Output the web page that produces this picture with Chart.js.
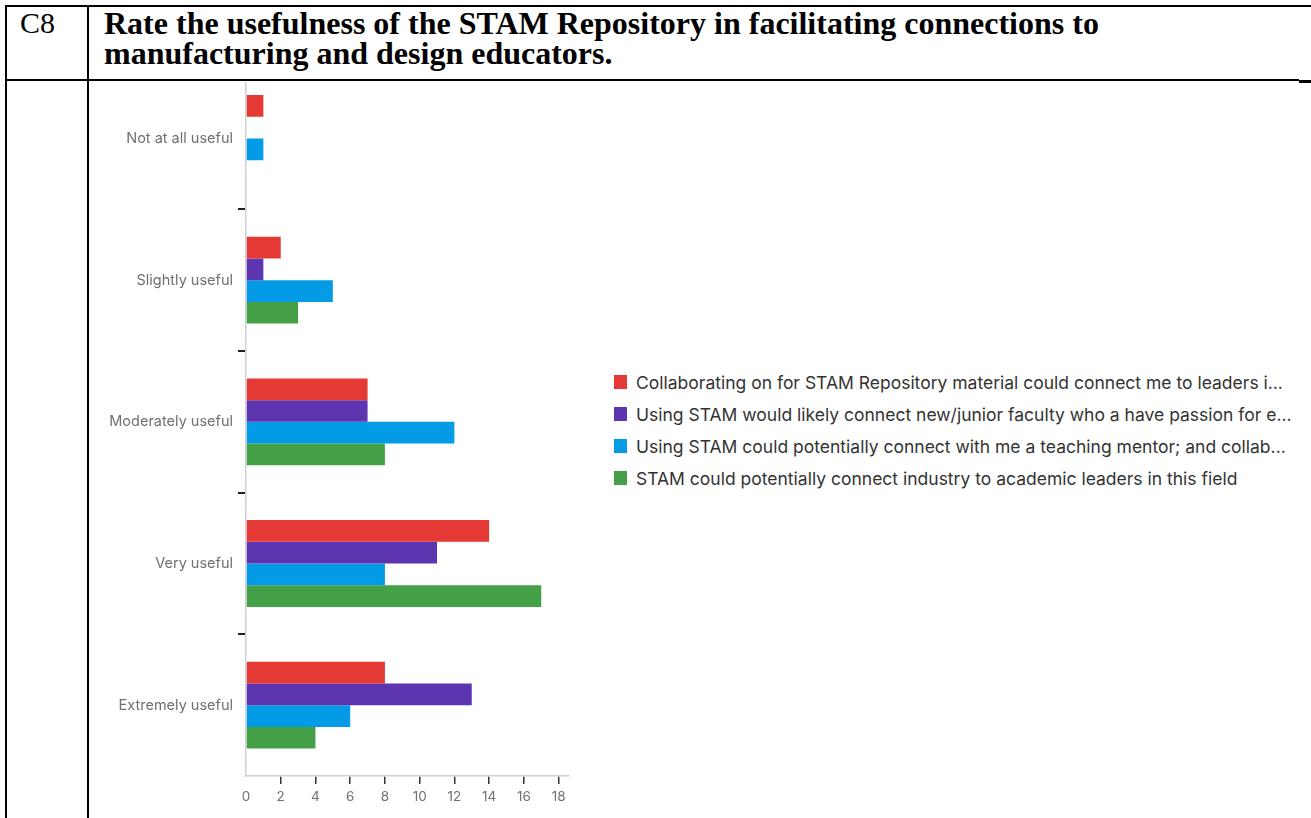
<!DOCTYPE html>
<html>
<head>
<meta charset="utf-8">
<script src="https://cdn.jsdelivr.net/npm/chart.js@4"></script>
<style>
  html, body { margin: 0; padding: 0; background: #fff; }
  body { width: 1311px; height: 818px; position: relative; overflow: hidden; }
  .line { position: absolute; background: #000; }
  .cell-id { position: absolute; left: 20px; top: 8px; font: 30px/30px "Liberation Serif", serif; }
  .title { position: absolute; left: 104px; top: 8px; font: bold 32px/30px "Liberation Serif", serif; color: #000; white-space: nowrap; }
  #chartWrap { position: absolute; left: 92px; top: 82px; width: 490px; height: 736px; overflow: hidden; }
  #chartWrap canvas { position: absolute; left: 0; top: -28px; }
  #legend { position: absolute; left: 614px; top: 366px; font: 17.5px "Inter", sans-serif; color: #333; }
  .item { height: 32px; display: flex; align-items: center; white-space: nowrap; }
  .box { width: 13px; height: 14px; margin-right: 9px; }
</style>
</head>
<body>
<div class="line" style="left:5px; top:5px; width:1306px; height:2px;"></div>
<div class="line" style="left:5px; top:5px; width:2px; height:813px;"></div>
<div class="line" style="left:87px; top:5px; width:2px; height:813px;"></div>
<div class="line" style="left:5px; top:79px; width:1294px; height:2px;"></div>
<div class="line" style="left:1299px; top:80px; width:12px; height:3px;"></div>

<div class="cell-id">C8</div>
<div class="title">Rate the usefulness of the STAM Repository in facilitating connections to<br>manufacturing and design educators.</div>

<div id="chartWrap"><canvas id="usefulChart" width="490" height="764"></canvas></div>
<div id="legend"></div>

<script>
const categories = ['Not at all useful', 'Slightly useful', 'Moderately useful', 'Very useful', 'Extremely useful'];
const seriesNames = [
  'Collaborating on for STAM Repository material could connect me to leaders i...',
  'Using STAM would likely connect new/junior faculty who a have passion for e...',
  'Using STAM could potentially connect with me a teaching mentor; and collab...',
  'STAM could potentially connect industry to academic leaders in this field'
];
const seriesColors = ['#e53935', '#5e35b1', '#039be5', '#43a047'];
const collaborating = [1, 2, 7, 14, 8];
const juniorFaculty = [0, 1, 7, 11, 13];
const teachingMentor = [1, 5, 12, 8, 6];
const industryLeaders = [0, 3, 8, 17, 4];
const xTicks = [0, 2, 4, 6, 8, 10, 12, 14, 16, 18];

const seriesValues = [collaborating, juniorFaculty, teachingMentor, industryLeaders];

const datasets = seriesValues.map((values, i) => ({
  label: seriesNames[i],
  data: values,
  backgroundColor: seriesColors[i],
  borderWidth: 0,
  barPercentage: 1,
  categoryPercentage: 0.613
}));

// legend sits to the right as plain html, the canvas is too narrow for it
const legend = document.getElementById('legend');
seriesNames.forEach((name, i) => {
  const row = document.createElement('div');
  row.className = 'item';
  row.innerHTML = '<span class="box" style="background:' + seriesColors[i] + '"></span><span></span>';
  row.lastChild.textContent = name;
  legend.appendChild(row);
});

const ctx = document.getElementById('usefulChart').getContext('2d');

new Chart(ctx, {
  type: 'bar',
  data: { labels: categories, datasets: datasets },
  options: {
    indexAxis: 'y',
    responsive: false,
    animation: false,
    devicePixelRatio: 1,
    layout: { padding: { top: 5, left: 0, right: 13, bottom: 12 } },
    plugins: {
      legend: { display: false },
      tooltip: { enabled: false }
    },
    scales: {
      y: {
        afterFit: s => { s.width = 154; },
        grid: {
          drawOnChartArea: false,
          drawTicks: true,
          tickLength: 8,
          lineWidth: 2,
          color: c => (c.index > 0 ? '#222' : 'rgba(0,0,0,0)')
        },
        border: { display: true, color: '#cfcfcf', width: 1.5 },
        ticks: {
          padding: 5,
          color: '#707070',
          font: { family: 'Inter', size: 14.5 }
        }
      },
      x: {
        min: 0,
        max: 18.6,
        afterFit: s => { s.height = 30; },
        afterBuildTicks: s => { s.ticks = xTicks.map(v => ({ value: v })); },
        grid: {
          drawOnChartArea: false,
          drawTicks: true,
          tickLength: 8,
          lineWidth: 1.5,
          color: c => (c.index > 0 ? '#333' : 'rgba(0,0,0,0)')
        },
        border: { display: true, color: '#cfcfcf', width: 1.5 },
        ticks: {
          padding: 5,
          color: '#707070',
          font: { family: 'Inter', size: 13.5 }
        }
      }
    }
  }
});
</script>
</body>
</html>
